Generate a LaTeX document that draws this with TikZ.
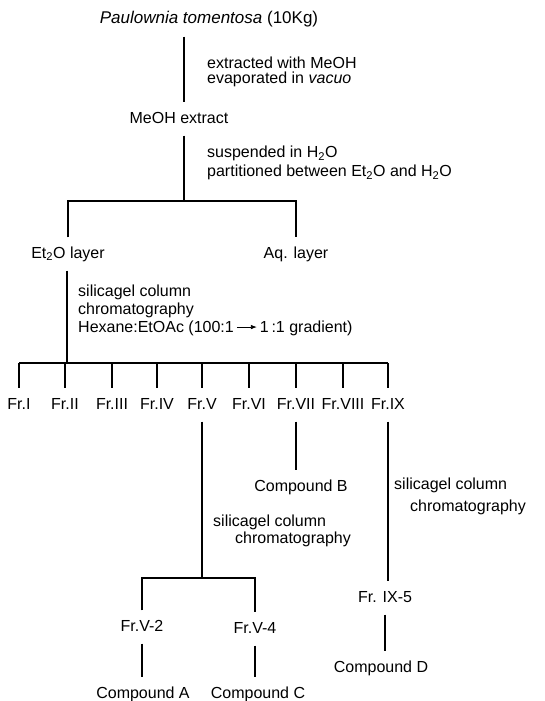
\documentclass[tikz,border=0pt]{standalone}
\usepackage{fontspec}
\setmainfont{Liberation Sans}
\usetikzlibrary{arrows.meta}
\tikzset{
  txt/.style={font=\fontsize{16}{17}\selectfont, inner xsep=2pt, inner ysep=9pt,
              text height=11.5pt, text depth=3.5pt},
  note/.style={font=\fontsize{16}{17}\selectfont, align=left, anchor=west, inner sep=0pt},
  ln/.style={line width=1.1pt},
}
\newcommand{\tsub}[1]{\textsubscript{#1}}
\newcommand{\gradarrow}{\tikz[baseline=-0.6ex]\draw[-{Latex[length=6pt,width=4.5pt]}, line width=0.8pt] (0pt,0pt) -- (20pt,0pt);}

\begin{document}
\begin{tikzpicture}[x=1pt, y=-1pt]
    \useasboundingbox[fill=white] (0,0) rectangle (544,701);

    % extraction
    \node[txt, font=\fontsize{17}{17}\selectfont] (pt) at (209,20) {\textit{Paulownia tomentosa} (10Kg)};
    \node[note, font=\fontsize{16}{15}\selectfont] (n1) at (207,72) {extracted with MeOH\\ evaporated in \textit{vacuo}};
    \node[txt] (meoh) at (179,119) {MeOH extract};
    \node[note, font=\fontsize{16}{19}\selectfont] (n2) at (207,163) {suspended in H\tsub{2}O\\ partitioned between Et\tsub{2}O and H\tsub{2}O};
    \coordinate (b1) at (184,201);
    \draw[ln] (pt.south -| b1) -- (meoh.north -| b1);
    \draw[ln] (meoh.south -| b1) -- (b1);

    % partition
    \node[txt] (et) at (68,254) {Et\tsub{2}O layer};
    \node[txt] (aq) at (296,254) {Aq. layer};
    \draw[ln] (et.north) |- (b1) -| (aq.north);

    % first column
    \node[note, font=\fontsize{16}{18}\selectfont] (n3) at (78,310) {silicagel column\\ chromatography\\ Hexane:EtOAc (100:1\,\gradarrow\,1\,:1 gradient)};
    \coordinate (b2) at (67,363);
    \draw[ln] (et.south -| b2) -- (b2);
    \foreach \i/\x/\t in {1/19/Fr.I, 2/65/Fr.II, 3/112/Fr.III, 4/157/Fr.IV, 5/202/Fr.V,
                          6/249/Fr.VI, 7/296/Fr.VII, 8/343/Fr.VIII, 9/388/Fr.IX}
      \node[txt, inner xsep=0pt] (f\i) at (\x,405) {\t};
    \draw[ln] (b2 -| f1.north) -- (b2 -| f9.north);
    \foreach \i in {1,...,9}
      \draw[ln] (b2 -| f\i.north) -- (f\i.north);

    % Fr.VII
    \node[txt] (cb) at (301,487) {Compound B};
    \draw[ln] (f7.south) -- (f7.south |- cb.north);

    % Fr.IX
    \node[note, font=\fontsize{16}{17}\selectfont] (n4) at (394,496) {silicagel column\\[5pt] \hspace*{16pt}chromatography};
    \node[txt] (fix) at (385,598) {Fr. IX-5};
    \node[txt] (cd) at (381,668) {Compound D};
    \draw[ln] (f9.south) -- (f9.south |- fix.north);
    \draw[ln] (fix.south) -- (fix.south |- cd.north);

    % Fr.V
    \node[note] (n5) at (213,531) {silicagel column\\ \hspace*{22pt}chromatography};
    \coordinate (b3) at (202,578);
    \node[txt] (fv2) at (142,627) {Fr.V-2};
    \node[txt] (fv4) at (255,629) {Fr.V-4};
    \node[txt] (ca) at (143,694) {Compound A};
    \node[txt] (cc) at (258,694) {Compound C};
    \draw[ln] (f5.south) -- (b3);
    \draw[ln] (fv2.north) |- (b3) -| (fv4.north);
    \draw[ln] (fv2.south) -- (fv2.south |- ca.north);
    \draw[ln] (fv4.south) -- (fv4.south |- cc.north);
\end{tikzpicture}
\end{document}
